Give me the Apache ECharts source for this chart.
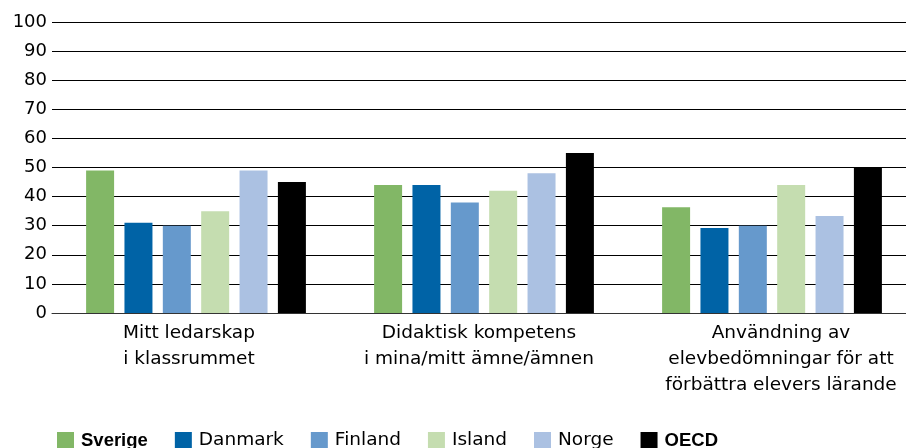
<!DOCTYPE html>
<html>
<head>
<meta charset="utf-8">
<script src="https://cdn.jsdelivr.net/npm/echarts@6/dist/echarts.min.js"></script>
<style>
  html, body { margin: 0; padding: 0; background: #fff; overflow: hidden; }
  /* plot runs a little past the right edge, like the cropped original */
  #chart { width: 916px; height: 448px; }
</style>
</head>
<body>
<div id="chart"></div>
<script>
// kategorier och värden (procent)
var categories = [
  'Mitt ledarskap\ni klassrummet',
  'Didaktisk kompetens\ni mina/mitt ämne/ämnen',
  'Användning av\nelevbedömningar för att\nförbättra elevers lärande'
];
var sverige = [49, 44, 36.3];
var danmark = [31, 44, 29.2];
var finland = [30, 38, 30];
var island  = [35, 42, 44];
var norge   = [49, 48, 33.3];
var oecd    = [45, 55, 50.2];

var seriesNames = ['Sverige', 'Danmark', 'Finland', 'Island', 'Norge', 'OECD'];
var seriesData = [sverige, danmark, finland, island, norge, oecd];
var colors = ['#82b766', '#0063a6', '#6699cc', '#c5ddb0', '#abc1e2', '#000000'];
var boldNames = ['Sverige', 'OECD'];

var font = 'DejaVu Sans';
// the original labels sit a bit off the category centres
var labelShift = [-7, -5, 9];

var chart = echarts.init(document.getElementById('chart'));

var series = seriesNames.map(function (name, i) {
  return {
    name: name,
    type: 'bar',
    data: seriesData[i],
    barWidth: 28,
    barGap: '37%',
    itemStyle: { color: colors[i] }
  };
});

var catData = categories.map(function (c, i) {
  var s = labelShift[i];
  return {
    value: c,
    textStyle: { padding: s < 0 ? [0, -2 * s, 0, 0] : [0, 0, 0, 2 * s] }
  };
});

var option = {
  animation: false,
  grid: { left: 52, top: 22, right: 0, bottom: 135, containLabel: false },
  legend: {
    left: 57,
    top: 431,
    padding: 0,
    itemWidth: 17,
    itemHeight: 17,
    itemGap: 27,
    icon: 'rect',
    data: seriesNames,
    formatter: function (name) {
      return boldNames.indexOf(name) >= 0 ? '{b|' + name + '}' : name;
    },
    textStyle: {
      fontFamily: font,
      fontSize: 18.5,
      lineHeight: 17,
      color: '#000',
      padding: [0, 0, 0, 2],
      rich: {
        b: { fontFamily: 'Liberation Sans', fontSize: 18.5, fontWeight: 'bold', lineHeight: 17, color: '#000' }
      }
    }
  },
  xAxis: {
    type: 'category',
    data: catData,
    axisTick: { show: false },
    axisLine: { lineStyle: { color: '#333', width: 1 } },
    axisLabel: {
      interval: 0,
      margin: 7,
      fontFamily: font,
      fontSize: 18.5,
      lineHeight: 26,
      color: '#000'
    }
  },
  yAxis: {
    type: 'value',
    min: 0,
    max: 100,
    interval: 10,
    axisLine: { show: false },
    axisTick: { show: false },
    axisLabel: { margin: 5, fontFamily: font, fontSize: 18, color: '#000' },
    splitLine: { lineStyle: { color: '#000', width: 1 } }
  },
  series: series
};

chart.setOption(option);
</script>
</body>
</html>
